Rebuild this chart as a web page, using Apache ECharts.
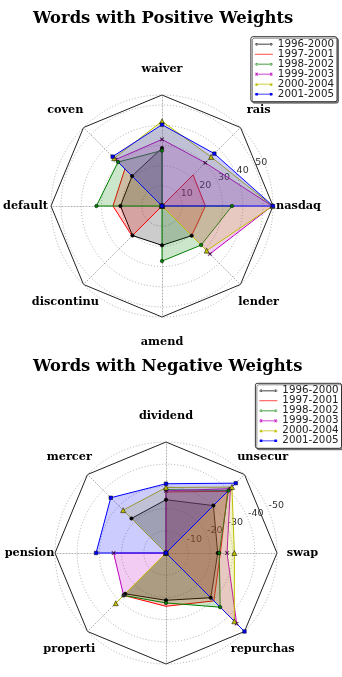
<!DOCTYPE html>
<html>
<head>
<meta charset="utf-8">
<script src="https://cdn.jsdelivr.net/npm/echarts@6/dist/echarts.min.js"></script>
<style>
html, body { margin: 0; padding: 0; background: #fff; }
#chart { width: 342px; height: 677px; }
</style>
</head>
<body>
<div id="chart"></div>
<script>
// periods (legend)
const periods = ['1996-2000', '1997-2001', '1998-2002', '1999-2003', '2000-2004', '2001-2005']

// positive weights, counter-clockwise from east
const posWords = ['nasdaq', 'rais', 'waiver', 'coven', 'default', 'discontinu', 'amend', 'lender']
const posMax = 55
const pos1996 = [0, 0, 28.7, 21, 20.6, 20.7, 19.5, 20.8]
const pos1997 = [21.5, 21.8, 0, 26, 24.3, 21, 0, 20.8]
const pos1998 = [34.7, 0, 27.5, 30.8, 32.5, 0, 27.3, 27.4]
const pos1999 = [54.6, 30.3, 33, 32.5, 0, 0, 0, 33.6]
const pos2000 = [54.8, 34.4, 42, 33.5, 0, 0, 0, 31.3]
const pos2001 = [55, 36.7, 40.3, 34.6, 0, 0, 0, 0]

// negative weights (magnitudes), last-but-one label is cut off in the picture
const negWords = ['swap', 'unsecur', 'dividend', 'mercer', 'pension', 'properti', '', 'repurchas']
const negMax = 50
const neg1996 = [23.3, 30.2, 24, 22, 0, 26, 21.3, 28.5]
const neg1997 = [24.5, 39.3, 27.5, 0, 0, 27, 24, 30.5]
const neg1998 = [24, 39.8, 28.5, 0, 0, 27, 22.5, 34.5]
const neg1999 = [27.5, 41, 28, 0, 23.6, 27, 0, 45]
const neg2000 = [30.8, 42, 29.5, 27.3, 0, 32, 0, 43.5]
const neg2001 = [0, 44.5, 31.2, 35.2, 31.5, 0, 0, 50]

const radialTicks = [10, 20, 30, 40, 50]

const colors = ['#000000', '#ff0000', '#008000', '#bf00bf', '#bfbf00', '#0000ff']
const xPath = 'path://M0,1L1,0L5,4L9,0L10,1L6,5L10,9L9,10L5,6L1,10L0,9L4,5Z'
const symbols = ['circle', 'none', 'circle', xPath, 'triangle', 'rect']

// legend icons: line with a marker at both ends (20 x 6 box)
const lineBar = 'M0,2.6H20V3.4H0Z'
const legendIcons = [
  'path://M0,0M20,6' + lineBar + 'M0.6,3A1.4,1.4 0 1 0 3.4,3A1.4,1.4 0 1 0 0.6,3Z M16.6,3A1.4,1.4 0 1 0 19.4,3A1.4,1.4 0 1 0 16.6,3Z',
  'path://M0,0M20,6' + lineBar,
  'path://M0,0M20,6' + lineBar + 'M0.6,3A1.4,1.4 0 1 0 3.4,3A1.4,1.4 0 1 0 0.6,3Z M16.6,3A1.4,1.4 0 1 0 19.4,3A1.4,1.4 0 1 0 16.6,3Z',
  'path://M0,0M20,6' + lineBar + 'M0.5,1.5L1,1L2,2L3,1L3.5,1.5L2.5,2.5L2.5,3.5L3.5,4.5L3,5L2,4L1,5L0.5,4.5L1.5,3.5L1.5,2.5Z M16.5,1.5L17,1L18,2L19,1L19.5,1.5L18.5,2.5L18.5,3.5L19.5,4.5L19,5L18,4L17,5L16.5,4.5L17.5,3.5L17.5,2.5Z',
  'path://M0,0M20,6' + lineBar + 'M2,1.3L3.7,4.6L0.3,4.6Z M18,1.3L19.7,4.6L16.3,4.6Z',
  'path://M0,0M20,6' + lineBar + 'M0.6,1.6H3.4V4.4H0.6Z M16.6,1.6H19.4V4.4H16.6Z'
]

const serifBold = { fontFamily: 'DejaVu Serif', fontWeight: 'bold' }

const topCenter = [162, 206]
const botCenter = [166, 553]
const R = 111

const makeRadar = (center, words, max) => ({
  center: center,
  radius: R,
  startAngle: 0,
  shape: 'polygon',
  splitNumber: 1,
  indicator: words.map(w => ({ name: w, min: 0, max: max })),
  axisNameGap: 25,
  axisName: {
    formatter: name => '{c|' + name + '}',
    rich: {
      c: Object.assign({ fontSize: 11.3, color: '#000', width: 1, lineHeight: 1, align: 'center' }, serifBold)
    }
  },
  splitLine: { lineStyle: { color: '#222', width: 1 } },
  splitArea: { show: false },
  axisLine: { lineStyle: { color: '#9a9a9a', type: [1, 2], width: 0.8 } },
  axisTick: { show: false },
  axisLabel: { show: false }
})

const makeRadiusAxis = (idx, max, prefix) => ({
  polarIndex: idx,
  type: 'value',
  min: 0,
  max: max,
  interval: 10,
  axisLine: { show: false },
  axisTick: { show: false },
  axisLabel: {
    fontFamily: 'DejaVu Sans',
    fontSize: 9.5,
    color: '#333',
    align: 'left',
    verticalAlign: 'bottom',
    margin: 0,
    formatter: v => radialTicks.includes(v) ? prefix + v : ''
  },
  splitLine: {
    showMaxLine: false,
    lineStyle: { color: '#9a9a9a', type: [1, 2], width: 0.8 }
  },
  z: 1
})

const makeSeries = (radarIndex, rows) => rows.map((vals, i) => ({
  name: periods[i],
  type: 'radar',
  radarIndex: radarIndex,
  color: colors[i],
  symbol: symbols[i],
  symbolSize: i === 4 ? 5 : 3.5,
  lineStyle: { width: 1, color: colors[i] },
  itemStyle: { color: colors[i], borderColor: '#000', borderWidth: 0.5 },
  areaStyle: { color: colors[i], opacity: 0.2 },
  data: [{ value: vals, name: periods[i] }],
  z: 3
}))

const makeLegend = (right, top) => ({
  orient: 'vertical',
  right: right,
  top: top,
  data: periods.map((p, i) => ({ name: p, icon: legendIcons[i] })),
  itemWidth: 18,
  itemHeight: 5.4,
  itemGap: 0,
  itemStyle: { borderWidth: 0 },
  selectedMode: false,
  padding: [2.5, 3, 2.5, 4],
  backgroundColor: '#fff',
  borderColor: '#333',
  borderWidth: 1,
  borderRadius: 2,
  shadowColor: 'rgba(0,0,0,0.45)',
  shadowOffsetX: 1.5,
  shadowOffsetY: 1.5,
  textStyle: { fontFamily: 'DejaVu Sans', fontSize: 10.3, color: '#222', lineHeight: 9.7 },
  itemTextGap: 7
})

const chart = echarts.init(document.getElementById('chart'))

chart.setOption({
  animation: false,
  backgroundColor: '#fff',
  title: [
    { text: 'Words with Positive Weights', left: 33, top: 9.5, padding: 0,
      textStyle: Object.assign({ fontSize: 16.4, color: '#000', lineHeight: 18 }, serifBold) },
    { text: 'Words with Negative Weights', left: 33, top: 357.5, padding: 0,
      textStyle: Object.assign({ fontSize: 16.4, color: '#000', lineHeight: 18 }, serifBold) }
  ],
  legend: [makeLegend(5, 36.7), makeLegend(0.5, 383.3)],
  polar: [
    { center: topCenter, radius: R },
    { center: botCenter, radius: R }
  ],
  angleAxis: [
    { polarIndex: 0, type: 'value', min: 0, max: 360, startAngle: 22.5, show: false },
    { polarIndex: 1, type: 'value', min: 0, max: 360, startAngle: 22.5, show: false }
  ],
  radiusAxis: [makeRadiusAxis(0, posMax, ''), makeRadiusAxis(1, negMax, '-')],
  radar: [makeRadar(topCenter, posWords, posMax), makeRadar(botCenter, negWords, negMax)],
  series: [
    ...makeSeries(0, [pos1996, pos1997, pos1998, pos1999, pos2000, pos2001]),
    ...makeSeries(1, [neg1996, neg1997, neg1998, neg1999, neg2000, neg2001])
  ]
})

window.addEventListener('resize', () => chart.resize())
</script>
</body>
</html>
